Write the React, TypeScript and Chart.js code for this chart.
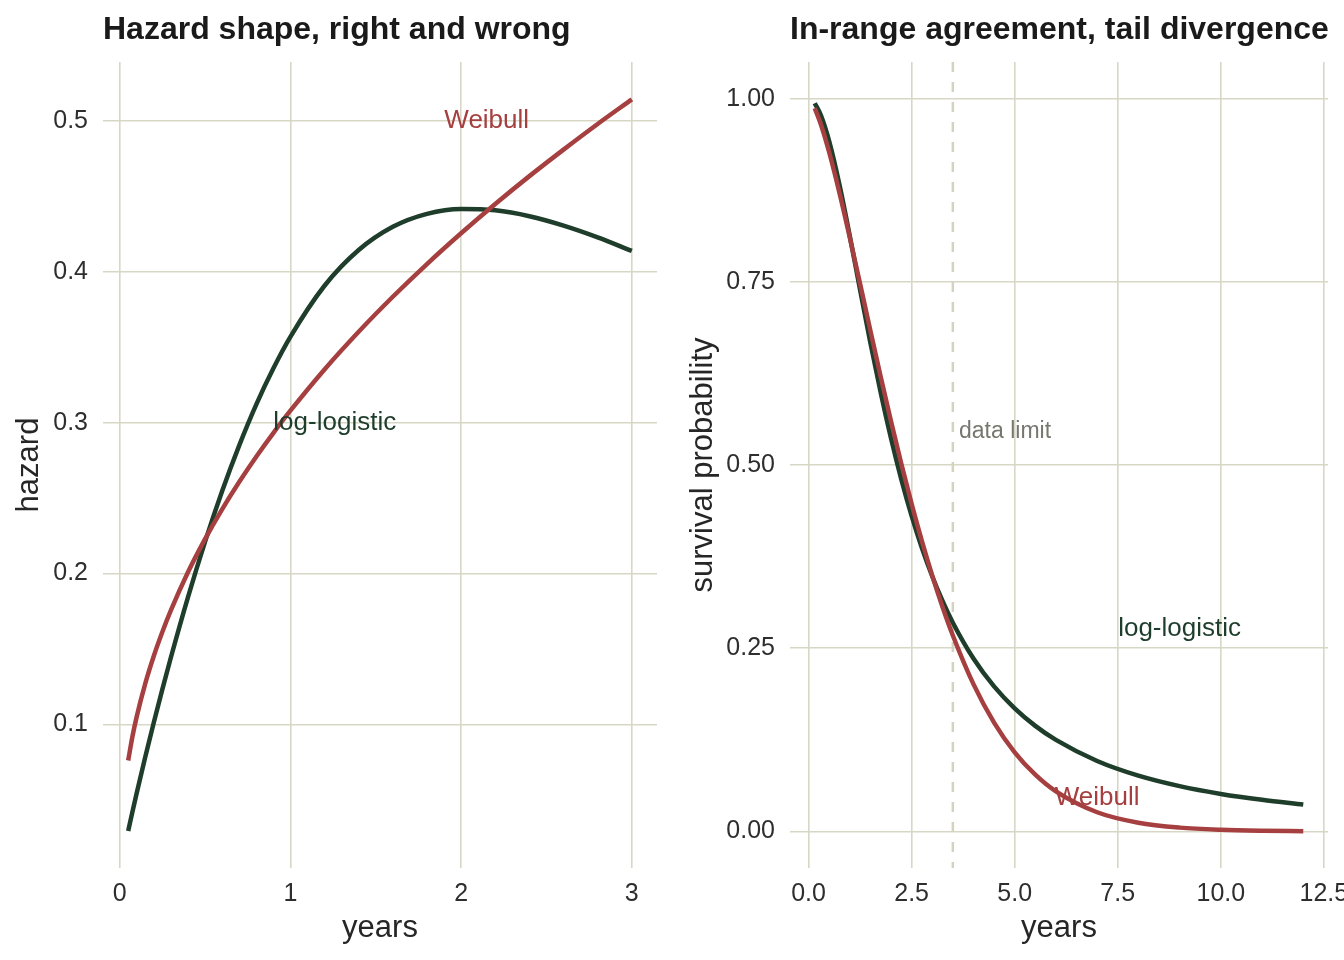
import React, { useEffect, useRef } from "react";
import { Chart, registerables } from "chart.js";

Chart.register(...registerables);

const FONT = "'Liberation Sans', Arial, Helvetica, sans-serif";
Chart.defaults.font.family = FONT;

// ---------- data ----------
const HAZ_T = [0.05, 0.075, 0.1, 0.15, 0.2, 0.25, 0.3, 0.4, 0.5, 0.6, 0.7, 0.8, 0.9, 1.0, 1.2, 1.4, 1.6, 1.8, 2.0, 2.2, 2.4, 2.6, 2.8, 3.0];
const HAZ_LOGLOGISTIC = [0.0292, 0.042, 0.0544, 0.0783, 0.1012, 0.1232, 0.1443, 0.1842, 0.221, 0.2546, 0.2849, 0.3121, 0.336, 0.357, 0.3909, 0.4146, 0.43, 0.4386, 0.4418, 0.4409, 0.437, 0.4308, 0.423, 0.414];
const HAZ_WEIBULL = [0.076, 0.0919, 0.1051, 0.127, 0.1453, 0.1612, 0.1755, 0.2008, 0.2228, 0.2426, 0.2607, 0.2775, 0.2932, 0.308, 0.3354, 0.3604, 0.3836, 0.4053, 0.4257, 0.4451, 0.4636, 0.4812, 0.4982, 0.5145];

const SURV_T = [0.15, 0.3, 0.5, 0.75, 1, 1.25, 1.5, 1.75, 2, 2.25, 2.5, 2.75, 3, 3.25, 3.5, 4, 4.5, 5, 5.5, 6, 7, 8, 9, 10, 11, 12];
const SURV_LOGLOGISTIC = [0.9938, 0.9773, 0.942, 0.8824, 0.8126, 0.7392, 0.6669, 0.5988, 0.5364, 0.4804, 0.4306, 0.3867, 0.3482, 0.3144, 0.2848, 0.2359, 0.1978, 0.1679, 0.144, 0.1248, 0.0961, 0.0761, 0.0618, 0.0511, 0.043, 0.0366];
const SURV_WEIBULL = [0.9871, 0.9647, 0.9268, 0.8714, 0.8106, 0.7473, 0.6834, 0.6205, 0.5596, 0.5016, 0.4469, 0.396, 0.3491, 0.3062, 0.2673, 0.2009, 0.1485, 0.1079, 0.0773, 0.0545, 0.0261, 0.0118, 0.0051, 0.0021, 0.0008, 0.0003];

const HAZ_X_TICKS = [0, 1, 2, 3];
const HAZ_X_LABELS = ["0", "1", "2", "3"];
const HAZ_Y_TICKS = [0.1, 0.2, 0.3, 0.4, 0.5];
const HAZ_Y_LABELS = ["0.1", "0.2", "0.3", "0.4", "0.5"];

const SURV_X_TICKS = [0, 2.5, 5, 7.5, 10, 12.5];
const SURV_X_LABELS = ["0.0", "2.5", "5.0", "7.5", "10.0", "12.5"];
const SURV_Y_TICKS = [0, 0.25, 0.5, 0.75, 1];
const SURV_Y_LABELS = ["0.00", "0.25", "0.50", "0.75", "1.00"];

const DATA_LIMIT = 3.5;

// ---------- style ----------
const GREEN = "#1f3d2b";
const RED = "#a63f3f";
const GRID = "#d7d7c6";
const DASH = "#d3d3c0";
const TITLE_C = "#1a1a1a";
const TEXT_C = "#262626";
const TICK_C = "#2e2e2e";
const NOTE_GRAY = "#77776f";

type Note = { text: string; x: number; y: number; color: string; size: number; align: CanvasTextAlign };

type PanelProps = {
  left: number;
  title: string;
  xTitle: string;
  yTitle: string;
  t: number[];
  ll: number[];
  wb: number[];
  xTicks: number[];
  xLabels: string[];
  yTicks: number[];
  yLabels: string[];
  xRange: [number, number];
  yRange: [number, number];
  axisWidth: number;
  padRight: number;
  yTitlePad: number;
  notes: Note[];
  vline?: number;
};

function Panel(p: PanelProps) {
  const ref = useRef<HTMLCanvasElement | null>(null);

  useEffect(() => {
    if (!ref.current) return;

    const overlay = {
      id: "overlay",
      beforeDatasetsDraw(chart: any) {
        if (p.vline === undefined) return;
        const { ctx, chartArea, scales } = chart;
        const px = scales.x.getPixelForValue(p.vline);
        ctx.save();
        ctx.strokeStyle = DASH;
        ctx.lineWidth = 2.5;
        ctx.setLineDash([10, 10]);
        ctx.beginPath();
        ctx.moveTo(px, chartArea.top);
        ctx.lineTo(px, chartArea.bottom);
        ctx.stroke();
        ctx.restore();
      },
      afterDatasetsDraw(chart: any) {
        const { ctx, scales } = chart;
        ctx.save();
        for (const n of p.notes) {
          ctx.font = `${n.size}px ${FONT}`;
          ctx.fillStyle = n.color;
          ctx.textAlign = n.align;
          ctx.textBaseline = "middle";
          ctx.fillText(n.text, scales.x.getPixelForValue(n.x), scales.y.getPixelForValue(n.y));
        }
        ctx.restore();
      },
      afterDraw(chart: any) {
        const { ctx, chartArea } = chart;
        ctx.save();
        ctx.font = `bold 32px ${FONT}`;
        ctx.fillStyle = TITLE_C;
        ctx.textAlign = "left";
        ctx.textBaseline = "alphabetic";
        ctx.fillText(p.title, chartArea.left, 39);
        ctx.restore();
      },
    };

    const chart = new Chart(ref.current, {
      type: "line",
      data: {
        datasets: [
          {
            label: "Weibull",
            data: p.t.map((x, i) => ({ x, y: p.wb[i] })),
            borderColor: RED,
            borderWidth: 4.5,
            pointRadius: 0,
            fill: false,
            cubicInterpolationMode: "monotone",
          },
          {
            label: "log-logistic",
            data: p.t.map((x, i) => ({ x, y: p.ll[i] })),
            borderColor: GREEN,
            borderWidth: 4.5,
            pointRadius: 0,
            fill: false,
            cubicInterpolationMode: "monotone",
          },
        ],
      },
      options: {
        animation: false,
        responsive: false,
        devicePixelRatio: 1,
        layout: { padding: { top: 62, right: p.padRight, left: 0, bottom: 0 } },
        plugins: {
          legend: { display: false },
          tooltip: { enabled: false },
          title: { display: false },
        },
        scales: {
          x: {
            type: "linear",
            min: p.xRange[0],
            max: p.xRange[1],
            afterBuildTicks: (s: any) => {
              s.ticks = p.xTicks.map((v) => ({ value: v }));
            },
            afterFit: (s: any) => {
              s.height = 92;
              s.paddingLeft = 0;
              s.paddingRight = 0;
            },
            grid: { color: GRID, lineWidth: 1.6, drawTicks: false },
            border: { display: false },
            ticks: {
              padding: 11,
              autoSkip: false,
              maxRotation: 0,
              font: { size: 25 },
              color: TICK_C,
              callback: (v: any) => p.xLabels[p.xTicks.indexOf(Number(v))] ?? "",
            },
            title: {
              display: true,
              text: p.xTitle,
              color: TEXT_C,
              font: { size: 31 },
              padding: { top: 0, bottom: 13 },
            },
          },
          y: {
            type: "linear",
            min: p.yRange[0],
            max: p.yRange[1],
            afterBuildTicks: (s: any) => {
              s.ticks = p.yTicks.map((v) => ({ value: v }));
            },
            afterFit: (s: any) => {
              s.width = p.axisWidth;
            },
            grid: { color: GRID, lineWidth: 1.6, drawTicks: false },
            border: { display: false },
            ticks: {
              padding: 15,
              autoSkip: false,
              font: { size: 25 },
              color: TICK_C,
              callback: (v: any) => p.yLabels[p.yTicks.indexOf(Number(v))] ?? "",
            },
            title: {
              display: true,
              text: p.yTitle,
              color: TEXT_C,
              font: { size: 31 },
              padding: { top: p.yTitlePad, bottom: 0 },
            },
          },
        },
      },
      plugins: [overlay],
    } as any);

    return () => chart.destroy();
  }, []);

  return (
    <canvas
      ref={ref}
      width={672}
      height={960}
      style={{ position: "absolute", left: p.left, top: 0, width: 672, height: 960 }}
    />
  );
}

export default function App() {
  return (
    <div style={{ position: "fixed", left: 0, top: 0, width: 1344, height: 960, background: "#ffffff" }}>
      <Panel
        left={0}
        title="Hazard shape, right and wrong"
        xTitle="years"
        yTitle="hazard"
        t={HAZ_T}
        ll={HAZ_LOGLOGISTIC}
        wb={HAZ_WEIBULL}
        xTicks={HAZ_X_TICKS}
        xLabels={HAZ_X_LABELS}
        yTicks={HAZ_Y_TICKS}
        yLabels={HAZ_Y_LABELS}
        xRange={[-0.0975, 3.1475]}
        yRange={[0.0047, 0.5393]}
        axisWidth={103}
        padRight={15}
        yTitlePad={11}
        notes={[
          { text: "Weibull", x: 2.15, y: 0.5, color: RED, size: 26, align: "center" },
          { text: "log-logistic", x: 1.26, y: 0.3, color: GREEN, size: 26, align: "center" },
        ]}
      />
      <Panel
        left={672}
        title="In-range agreement, tail divergence"
        xTitle="years"
        yTitle="survival probability"
        t={SURV_T}
        ll={SURV_LOGLOGISTIC}
        wb={SURV_WEIBULL}
        xTicks={SURV_X_TICKS}
        xLabels={SURV_X_LABELS}
        yTicks={SURV_Y_TICKS}
        yLabels={SURV_Y_LABELS}
        xRange={[-0.45, 12.6]}
        yRange={[-0.05, 1.05]}
        axisWidth={118}
        padRight={16}
        yTitlePad={13}
        vline={DATA_LIMIT}
        notes={[
          { text: "log-logistic", x: 9, y: 0.277, color: GREEN, size: 26, align: "center" },
          { text: "Weibull", x: 7, y: 0.046, color: RED, size: 26, align: "center" },
          { text: "data limit", x: 3.65, y: 0.545, color: NOTE_GRAY, size: 23, align: "left" },
        ]}
      />
    </div>
  );
}
